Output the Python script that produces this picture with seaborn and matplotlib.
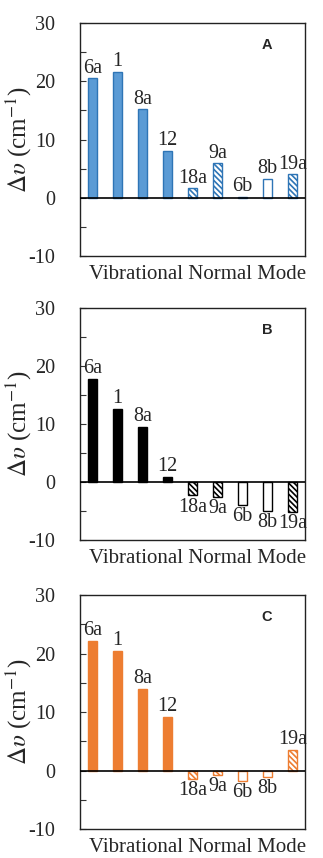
import matplotlib
matplotlib.use('Agg')
import matplotlib.pyplot as plt
import seaborn as sns
import pandas as pd
from matplotlib.ticker import MultipleLocator

# vibrational normal modes and frequency shifts (cm-1) for each panel
modes = ['6a', '1', '8a', '12', '18a', '9a', '6b', '8b', '19a']
shift_a = [20.5, 21.6, 15.2, 8.0, 1.6, 5.9, 0.2, 3.3, 4.0]
shift_b = [17.8, 12.6, 9.6, 0.9, -2.3, -2.5, -3.9, -5.0, -5.2]
shift_c = [22.2, 20.4, 14.0, 9.2, -1.4, -0.7, -1.8, -1.1, 3.5]
# bar style per mode
bar_style = ['solid', 'solid', 'solid', 'solid', 'hatch', 'hatch', 'open', 'open', 'hatch']

panel_letters = ['A', 'B', 'C']
fill_colors = ['#5B9BD5', '#000000', '#ED7D31']
edge_colors = ['#2E75B6', '#000000', '#ED7D31']

sns.set_theme(style='white')
plt.rcParams['font.family'] = ['Liberation Serif', 'DejaVu Serif']
plt.rcParams['mathtext.fontset'] = 'stix'
plt.rcParams['axes.unicode_minus'] = False
plt.rcParams['hatch.linewidth'] = 1.2

fig = plt.figure(figsize=(3.23, 8.58), dpi=100)
# axes rectangles [left, bottom, width, height] in figure fraction
rects = [[0.248, 0.7016, 0.697, 0.2716],
         [0.248, 0.3706, 0.697, 0.2700],
         [0.248, 0.0338, 0.697, 0.2727]]

for values, letter, fc, ec, rect in zip([shift_a, shift_b, shift_c], panel_letters,
                                        fill_colors, edge_colors, rects):
    ax = fig.add_axes(rect)
    df = pd.DataFrame({'mode': modes, 'shift': values})
    sns.barplot(data=df, x='mode', y='shift', color=fc, saturation=1,
                width=0.36, ax=ax)

    # restyle bars: solid / hatched / open
    for patch, style in zip(ax.patches, bar_style):
        patch.set_linewidth(1.0)
        patch.set_facecolor(fc if style == 'solid' else 'white')
        patch.set_edgecolor(ec)
        if style == 'hatch':
            patch.set_hatch('\\\\\\\\\\\\')

    # mode labels above/below the bars
    for i, (m, v) in enumerate(zip(modes, values)):
        if v >= 0:
            ax.annotate(m, (i, v), xytext=(0, 0.5), textcoords='offset points',
                        ha='center', va='bottom', fontsize=14.5)
        else:
            ax.annotate(m, (i, v), xytext=(0, -1.5), textcoords='offset points',
                        ha='center', va='top', fontsize=14.5)

    ax.axhline(0, color='black', lw=1.2, zorder=3)
    ax.set_ylim(-10, 30)
    ax.yaxis.set_major_locator(MultipleLocator(10))
    ax.yaxis.set_minor_locator(MultipleLocator(5))
    ax.tick_params(axis='y', which='both', direction='in', left=True,
                   length=4, width=0.8, color='#333333', labelsize=14.5, pad=18)
    ax.set_xticks([])
    ax.set_xlabel('Vibrational Normal Mode', fontsize=15)
    ax.xaxis.set_label_coords(0.52, -0.04, transform=ax.transAxes)
    ax.xaxis.label.set_va('top')
    ax.set_ylabel(r'$\mathit{\Delta\upsilon}$ (cm$^{-1}$)', fontsize=18)
    ax.yaxis.set_label_coords(-0.27, 0.5, transform=ax.transAxes)
    ax.yaxis.label.set_va('center')
    for sp in ax.spines.values():
        sp.set_color('#222222')
        sp.set_linewidth(1.0)
    ax.text(0.83, 0.905, letter, transform=ax.transAxes, ha='center', va='center',
            fontsize=10.5, fontweight='bold', family='Liberation Sans')

fig.savefig('out.png', dpi=100)
